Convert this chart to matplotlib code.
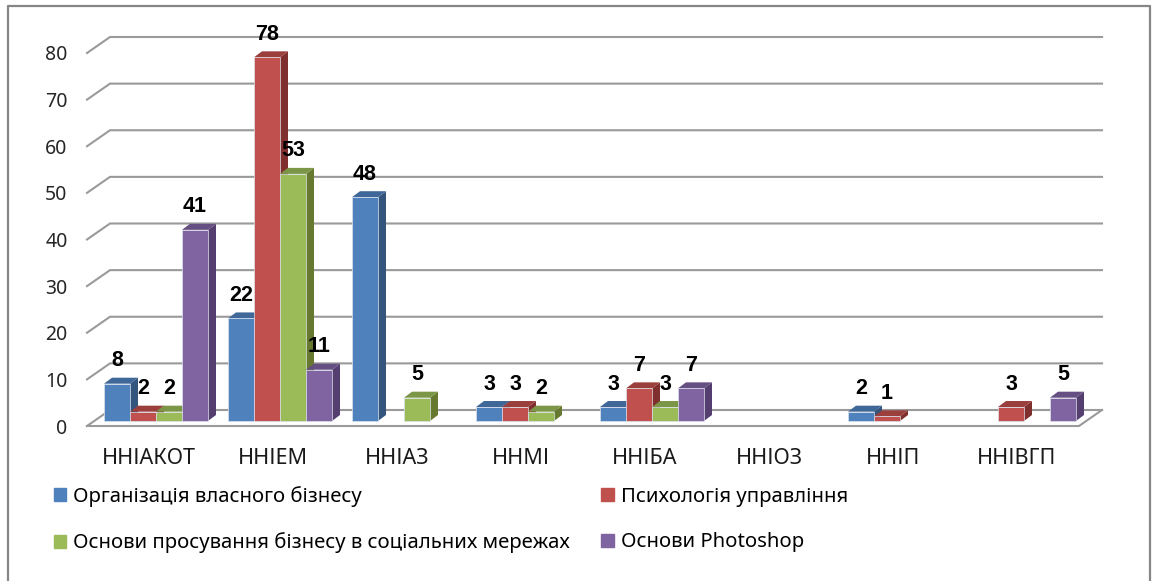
import matplotlib
matplotlib.use("Agg")
import matplotlib.pyplot as plt
from matplotlib.lines import Line2D
from matplotlib.patches import Polygon, Patch

plt.rcParams['font.family'] = ['Noto Sans', 'DejaVu Sans']

# data
groups = ['ННІАКОТ', 'ННІЕМ', 'ННІАЗ', 'ННМІ', 'ННІБА', 'ННІОЗ', 'ННІП', 'ННІВГП']
business = [8, 22, 48, 3, 3, None, 2, None]
psychology = [2, 78, None, 3, 7, None, 1, 3]
promotion = [2, 53, 5, 2, 3, None, None, None]
photoshop = [41, 11, None, None, 7, None, None, 5]
series_names = ['Організація власного бізнесу', 'Психологія управління',
                'Основи просування бізнесу в соціальних мережах', 'Основи Photoshop']
y_ticks = [0, 10, 20, 30, 40, 50, 60, 70, 80]

W, H = 1153, 581
front = ['#4F81BD', '#C0504D', '#9BBB59', '#8064A2']
side = ['#34557E', '#7F302E', '#66792F', '#553F70']
top = ['#3F6797', '#9A3F3C', '#7C9647', '#664F82']
grid = '#9A9A9A'

fig = plt.figure(figsize=(W / 100, H / 100), dpi=100)
# plot box: front plane of the fake 3d chart
ax = fig.add_axes([87 / W, 1 - 426 / H, 992 / W, 373 / H])
ax.set_xlim(0, 8)
ax.set_ylim(0, 80)
for s in ax.spines.values():
    s.set_visible(False)

px_x = 8 / 992      # one pixel in x units
px_y = 80 / 373     # one pixel in y units
depth_x = 23 * px_x
depth_y = 16 * px_y

# walls and floor
for v in y_ticks:
    ax.plot([0, depth_x, 8 + depth_x], [v, v + depth_y, v + depth_y],
            color=grid, lw=1.5, clip_on=False, zorder=1)
ax.plot([0, 8, 8 + depth_x], [0, 0, depth_y], color=grid, lw=1.5, clip_on=False, zorder=1)

# bars
bar_w = 26 * px_x
bar_dx = 8 * px_x
bar_dy = 6 * px_y
base = 5 * px_y
start = 17 * px_x
z = 2
all_series = [business, psychology, promotion, photoshop]
for i in range(len(groups)):
    for j, vals in enumerate(all_series):
        v = vals[i]
        if v is None:
            continue
        x0 = i + start + j * bar_w
        x1 = x0 + bar_w
        y1 = base + v
        ax.add_patch(Polygon([(x1, base), (x1 + bar_dx, base + bar_dy), (x1 + bar_dx, y1 + bar_dy), (x1, y1)],
                             closed=True, fc=side[j], ec='none', clip_on=False, zorder=z))
        ax.add_patch(Polygon([(x0, y1), (x0 + bar_dx, y1 + bar_dy), (x1 + bar_dx, y1 + bar_dy), (x1, y1)],
                             closed=True, fc=top[j], ec='none', clip_on=False, zorder=z))
        ax.bar(x0, v, width=bar_w, bottom=base, align='edge', color=front[j],
               edgecolor='#DCE3EC', linewidth=0.5, clip_on=False, zorder=z + 0.5)
        z += 1
        ax.annotate(str(v), (x0 + bar_w / 2, y1), xytext=(0, 16.5), textcoords='offset points',
                    ha='center', va='center', fontsize=15.5, fontweight='bold', color='black',
                    family='Liberation Sans', annotation_clip=False, zorder=100)

ax.set_yticks(y_ticks)
ax.set_yticklabels([str(v) for v in y_ticks], fontsize=14, color='#262626')
ax.set_xticks([i + 0.5 for i in range(len(groups))])
ax.set_xticklabels(groups, fontsize=15.5, color='#1A1A1A')
ax.tick_params(axis='y', length=0, pad=14)
ax.tick_params(axis='x', length=0, pad=16)

handles = [Patch(color=front[0]), Patch(color=front[2]), Patch(color=front[1]), Patch(color=front[3])]
labels = [series_names[0], series_names[2], series_names[1], series_names[3]]
fig.legend(handles, labels, loc='upper left', bbox_to_anchor=(54 / W, 1 - 486 / H), ncol=2,
           frameon=False, fontsize=14.6, handlelength=0.6, handleheight=0.6, handletextpad=0.35,
           columnspacing=1.55, labelspacing=1.25, borderpad=0, borderaxespad=0)

# outer frame, cut at the bottom of the screenshot
fig.add_artist(Line2D([8 / W, 8 / W, 1150 / W, 1150 / W], [0, 1 - 6 / H, 1 - 6 / H, 0],
                      color='#868686', lw=1.6))

fig.savefig('out.png', dpi=100)
